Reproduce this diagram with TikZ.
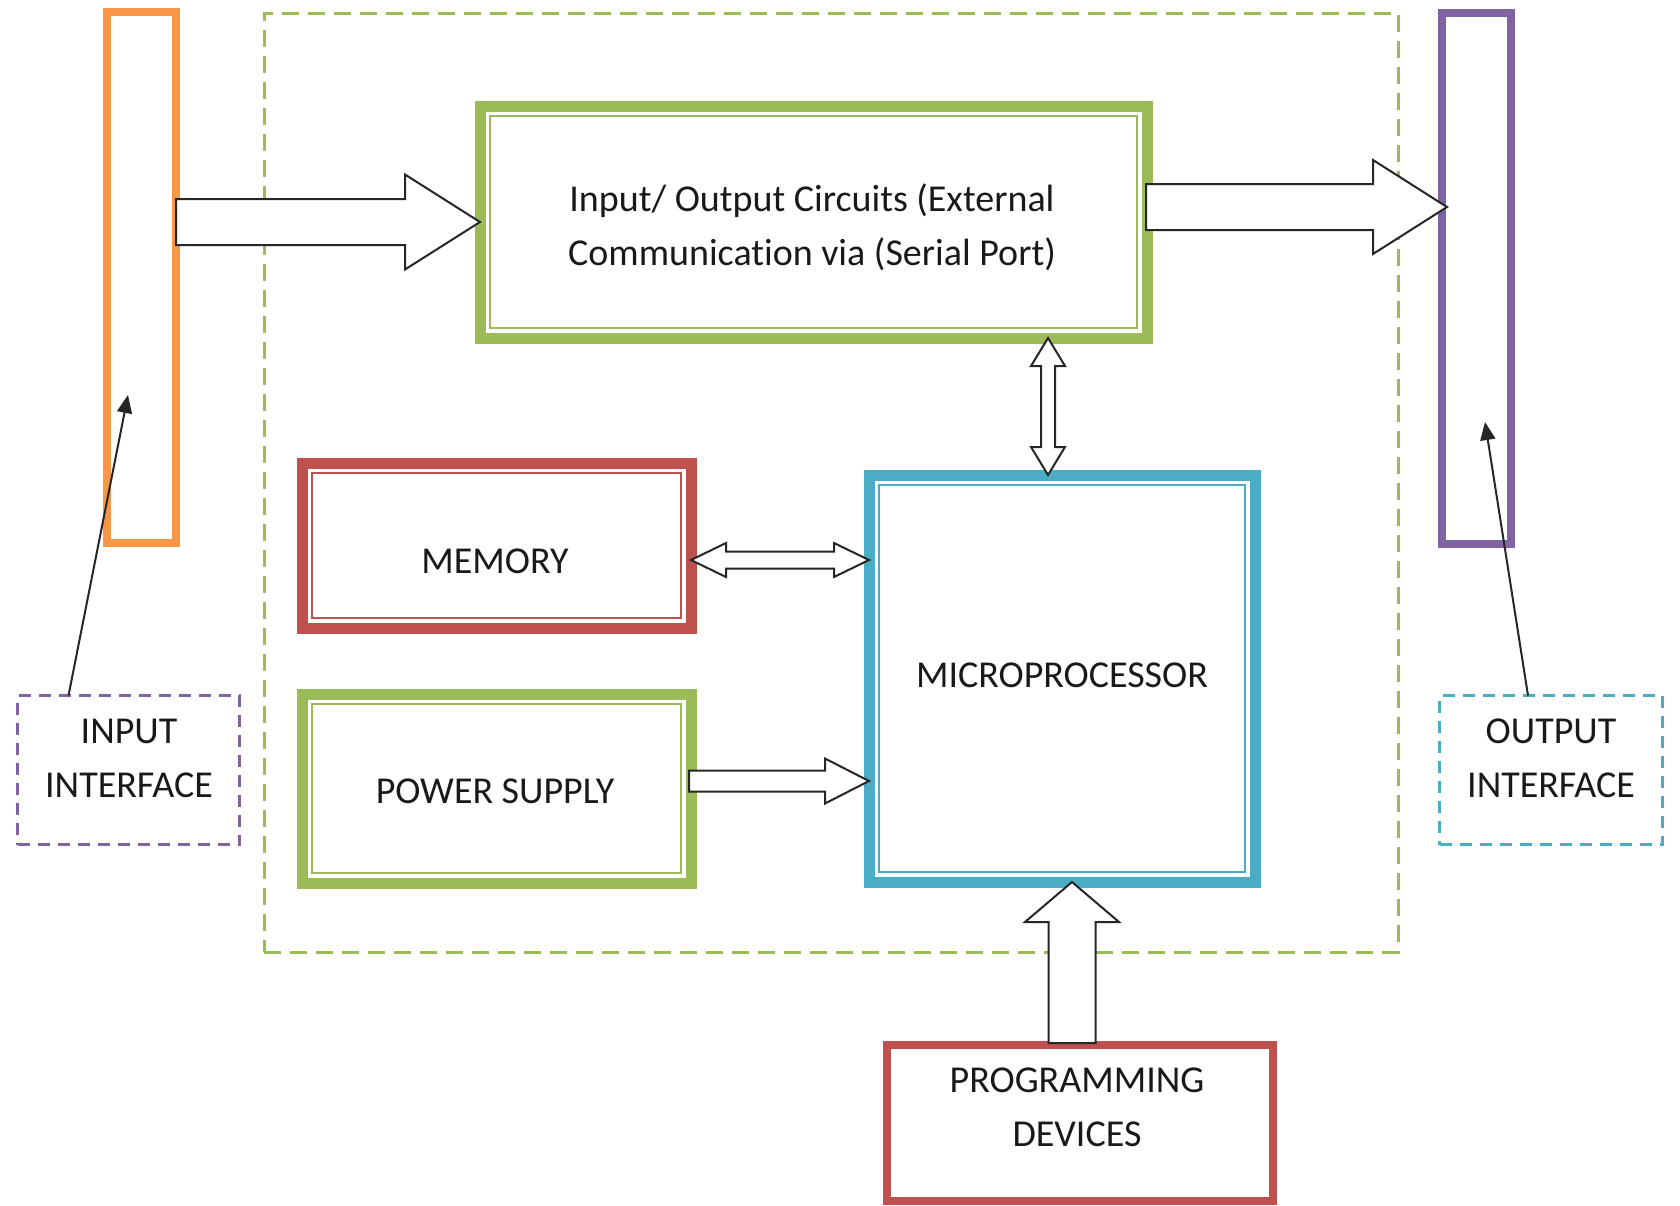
\documentclass[tikz,border=0pt]{standalone}
\usepackage{fontspec}
\setmainfont{Carlito}[Ligatures=NoCommon]
\usetikzlibrary{arrows.meta,calc}

\definecolor{ioGreen}{HTML}{9BBB59}
\definecolor{memRed}{HTML}{C0504D}
\definecolor{cpuBlue}{HTML}{4BACC6}
\definecolor{inOrange}{HTML}{F79646}
\definecolor{outPurple}{HTML}{8064A2}

\tikzset{
  every node/.append style={outer sep=0pt, inner sep=0pt},
  frame/.style={draw=#1, line width=8pt, rectangle},
  dblframe/.style={draw=#1, line width=11pt, rectangle,
    path picture={\draw[#1, line width=2pt]
      ([shift={(10,10)}]path picture bounding box.north west) rectangle
      ([shift={(-10,-10)}]path picture bounding box.south east);}},
  ifbox/.style={draw=#1, line width=3pt, dash pattern=on 12pt off 8pt, rectangle},
  lbl/.style={font=\fontsize{38}{54}\selectfont, text=black!90, anchor=base, align=center},
  blockarrow/.style={draw=black!85, fill=white, line width=2pt, line join=miter},
  pointer/.style={line width=2pt, draw=black!85, -{Triangle[length=18pt,width=15pt]}}
}

% block arrow pointing right: start, tip, half shaft, half head, head length
\newcommand\fatright[5]{%
  \draw[blockarrow] let \p1=(#1), \p2=(#2) in
    (\x1,\y1+#3pt) -- (\x2-#5pt,\y1+#3pt) -- (\x2-#5pt,\y1+#4pt) -- (\x2,\y1)
    -- (\x2-#5pt,\y1-#4pt) -- (\x2-#5pt,\y1-#3pt) -- (\x1,\y1-#3pt) -- cycle;}
% block arrow with heads left and right: left tip, right tip, ...
\newcommand\fatboth[5]{%
  \draw[blockarrow] let \p1=(#1), \p2=(#2) in
    (\x1,\y1) -- (\x1+#5pt,\y1+#4pt) -- (\x1+#5pt,\y1+#3pt) -- (\x2-#5pt,\y1+#3pt)
    -- (\x2-#5pt,\y1+#4pt) -- (\x2,\y1) -- (\x2-#5pt,\y1-#4pt) -- (\x2-#5pt,\y1-#3pt)
    -- (\x1+#5pt,\y1-#3pt) -- (\x1+#5pt,\y1-#4pt) -- cycle;}
% block arrow with heads up and down: top tip, bottom tip, ...
\newcommand\fatupdown[5]{%
  \draw[blockarrow] let \p1=(#1), \p2=(#2) in
    (\x1,\y1) -- (\x1+#4pt,\y1-#5pt) -- (\x1+#3pt,\y1-#5pt) -- (\x1+#3pt,\y2+#5pt)
    -- (\x1+#4pt,\y2+#5pt) -- (\x1,\y2) -- (\x1-#4pt,\y2+#5pt) -- (\x1-#3pt,\y2+#5pt)
    -- (\x1-#3pt,\y1-#5pt) -- (\x1-#4pt,\y1-#5pt) -- cycle;}
% block arrow pointing up: bottom start, tip, ...
\newcommand\fatup[5]{%
  \draw[blockarrow] let \p1=(#1), \p2=(#2) in
    (\x1-#3pt,\y1) -- (\x1-#3pt,\y2-#5pt) -- (\x1-#4pt,\y2-#5pt) -- (\x1,\y2)
    -- (\x1+#4pt,\y2-#5pt) -- (\x1+#3pt,\y2-#5pt) -- (\x1+#3pt,\y1) -- cycle;}

\begin{document}
\begin{tikzpicture}[x=1pt,y=-1pt]
\useasboundingbox (0,0) rectangle (1680,1205);

% controller boundary
\node[draw=ioGreen, line width=3pt, dash pattern=on 17pt off 9pt,
      minimum width=1134, minimum height=939] (plc) at (831,482.5) {};

% field-side bars
\node[frame=inOrange, minimum width=69, minimum height=531] (inbar) at (141.5,277.5) {};
\node[frame=outPurple, minimum width=69, minimum height=531] (outbar) at (1476.5,278) {};

% main blocks
\node[dblframe=ioGreen, minimum width=667, minimum height=232] (io) at (813.5,222) {};
\node[dblframe=memRed, minimum width=389, minimum height=165] (mem) at (496.5,545.5) {};
\node[dblframe=ioGreen, minimum width=389, minimum height=189] (psu) at (496.5,788.5) {};
\node[dblframe=cpuBlue, minimum width=386, minimum height=407] (cpu) at (1062,678.5) {};
\node[frame=memRed, minimum width=386, minimum height=156] (prog) at (1080,1123) {};
\node[ifbox=outPurple, minimum width=222, minimum height=149] (inif) at (128.5,770) {};
\node[ifbox=cpuBlue, minimum width=223, minimum height=149] (outif) at (1551,770) {};

% labels (multi-line labels sit on the baseline of their last line)
\node[lbl] (iot) at (812,265) {Input/ Output Circuits (External\\Communication via (Serial Port)};
\node[lbl] (memt) at (495,573) {MEMORY};
\node[lbl] (psut) at (495,803) {POWER SUPPLY};
\node[lbl] (cput) at (1062,687) {MICROPROCESSOR};
\node[lbl] (progt) at (1077,1146) {PROGRAMMING\\DEVICES};
\node[lbl] (inift) at (129,797) {INPUT\\INTERFACE};
\node[lbl] (outift) at (1551,797) {OUTPUT\\INTERFACE};

% connection points
\coordinate (busx) at ($(cpu.north)+(-14,0)$);
\coordinate (outport) at ($(io.east)+(-1,-15)$);
\coordinate (memport) at ($(mem.east)+(0,14.5)$);
\coordinate (psuport) at ($(psu.east)+(-2,-7.5)$);
\coordinate (progport) at ($(prog.north)+(-8,-2)$);
\coordinate (outhit) at ($(outbar.west)+(5,0)$);

% block arrows
\fatright{inbar.east |- io.west}{io.west}{23}{47.5}{75}
\fatright{outport}{outhit}{23}{47}{74}
\fatupdown{busx |- io.south}{busx |- cpu.north}{7}{17}{28}
\fatboth{memport}{cpu.west |- memport}{8.5}{17}{35}
\fatright{psuport}{cpu.west}{10.5}{22.5}{44}
\fatup{progport}{cpu.south}{23.5}{47}{40}

% interface pointers
\coordinate (inTip) at (128,395);
\coordinate (outTip) at (1485,422);
\draw[pointer] ($(inif.north)+(-60,0)$) -- (inTip);
\draw[pointer] ($(outif.north)+(-23,0)$) -- (outTip);
\end{tikzpicture}
\end{document}
